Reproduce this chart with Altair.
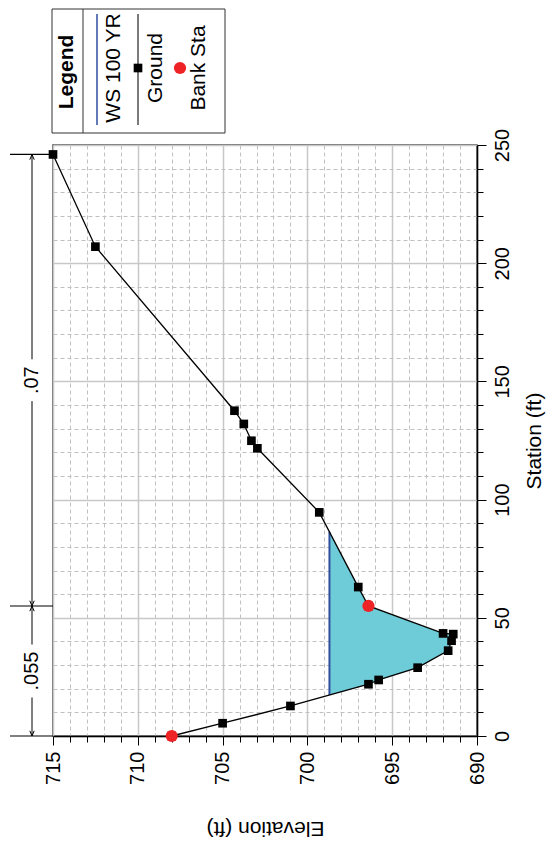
import altair as alt
import pandas as pd

FONT = "Liberation Sans"

# ---- data (HEC-RAS cross section, drawn rotated) ----
station = [0.0, 5.4, 12.7, 21.9, 23.7, 28.9, 36.1, 40.3, 43.1, 43.4, 55.0, 63.0,
           94.6, 121.7, 124.9, 132.0, 137.6, 207.0, 246.0]
elevation = [708.0, 705.0, 701.0, 696.4, 695.8, 693.5, 691.7, 691.5, 691.4, 692.0,
             696.4, 697.0, 699.3, 702.95, 703.3, 703.75, 704.3, 712.5, 715.0]
bank_sta = [0.0, 55.0]
bank_elev = [708.0, 696.4]
ws_elev = 698.7
n_labels = [".055", ".07"]
n_breaks = [0.0, 55.0, 246.0]
elev_ticks = list(range(690, 716))
sta_ticks = list(range(0, 251, 10))
legend_items = ["WS 100 YR", "Ground", "Bank Sta"]

W, H = 424, 591
PX_PER_STA = H / 250.0

xs = alt.Scale(domain=[690, 715], reverse=True, nice=False, zero=False)
ys = alt.Scale(domain=[0, 250], nice=False, zero=False)

ground = pd.DataFrame({"sta": station, "elev": elevation})
bank = pd.DataFrame({"sta": bank_sta, "elev": bank_elev})

# wetted region: ground below water surface, with crossings found on ground segments
pts = []
for i in range(len(station) - 1):
    s0, e0, s1, e1 = station[i], elevation[i], station[i + 1], elevation[i + 1]
    if e0 <= ws_elev:
        pts.append((s0, e0))
    if (e0 - ws_elev) * (e1 - ws_elev) < 0:
        t = (ws_elev - e0) / (e1 - e0)
        pts.append((s0 + t * (s1 - s0), ws_elev))
if elevation[-1] <= ws_elev:
    pts.append((station[-1], elevation[-1]))
wet = pd.DataFrame({"sta": [p[0] for p in pts], "elev": [p[1] for p in pts],
                    "ws": [ws_elev] * len(pts)})
ws_line = pd.DataFrame({"elev": [ws_elev], "sta": [wet["sta"].min()], "s2": [wet["sta"].max()]})

major5 = "datum.value % 5 == 0"
major50 = "datum.value % 50 == 0"

x_axis = alt.Axis(
    orient="bottom", values=elev_ticks, title="Elevation (ft)",
    labelExpr="datum.value % 5 == 0 ? datum.label : ''",
    labelAngle=270, labelAlign="right", labelBaseline="middle",
    labelFontSize=20, labelFont=FONT, labelColor="black", labelPadding=6,
    labelOverlap=False, labelFlush=False,
    tickSize={"condition": {"test": major5, "value": 9}, "value": 6},
    tickColor="black", tickWidth=1,
    grid=True,
    gridDash={"condition": {"test": major5, "value": []}, "value": [4, 3]},
    gridColor={"condition": {"test": major5, "value": "#c8c8c8"}, "value": "#c0c0c0"},
    gridWidth={"condition": {"test": major5, "value": 1.5}, "value": 1},
    domainColor="black", domainWidth=1.5,
    titleAngle=180, titleFontSize=21, titleFont=FONT, titleFontWeight="normal",
    titleColor="black", titleAlign="center", titleBaseline="middle", titleY=91,
)
y_axis = alt.Axis(
    orient="right", values=sta_ticks, title="Station (ft)",
    labelExpr="datum.value % 50 == 0 ? datum.label : ''",
    labelAngle=270, labelAlign="center", labelBaseline="top",
    labelFontSize=20, labelFont=FONT, labelColor="black", labelPadding=6,
    labelOverlap=False, labelFlush=False,
    tickSize={"condition": {"test": major50, "value": 9}, "value": 6},
    tickColor="black", tickWidth=1,
    grid=True,
    gridDash={"condition": {"test": major50, "value": []}, "value": [4, 3]},
    gridColor={"condition": {"test": major50, "value": "#c8c8c8"}, "value": "#c0c0c0"},
    gridWidth={"condition": {"test": major50, "value": 1.5}, "value": 1},
    domainColor="black", domainWidth=1.5,
    titleAngle=270, titleFontSize=21, titleFont=FONT, titleFontWeight="normal",
    titleColor="black", titleAlign="center", titleBaseline="middle",
    titleX=57, titleY=H / 2,
)

X = alt.X("elev:Q", scale=xs, axis=x_axis)
Y = alt.Y("sta:Q", scale=ys, axis=y_axis)

area = alt.Chart(wet).mark_area(orient="horizontal", color="#6ecbd8", opacity=1).encode(
    y=Y, x=X, x2="ws:Q",
)
wsl = alt.Chart(ws_line).mark_rule(color="#2e4f9e", strokeWidth=2).encode(
    x=X, y=Y, y2="s2:Q",
)
gline = alt.Chart(ground).mark_line(color="black", strokeWidth=1.3).encode(
    x=X, y=Y, order="sta:Q",
)
gpts = alt.Chart(ground).mark_square(color="black", size=75, opacity=1).encode(x=X, y=Y)
bpts = alt.Chart(bank).mark_circle(color="#ee2326", size=150, opacity=1).encode(x=X, y=Y)

# ---- Manning's n dimension lines on the left ----
DIM_X = -21
ticks_df = pd.DataFrame({"sta": n_breaks})
dim_ticks = alt.Chart(ticks_df).mark_rule(color="black", strokeWidth=1.2).encode(
    y=Y, x=alt.value(-43), x2=alt.value(0),
)
segs = []
lab_rows = []
for i, lab in enumerate(n_labels):
    a, b = n_breaks[i], n_breaks[i + 1]
    mid = (a + b) / 2
    text_px = 20 * (0.278 + 0.556 * (len(lab) - 1))
    half = (text_px / 2 + 7) / PX_PER_STA
    segs.append((a, mid - half))
    segs.append((mid + half, b))
    lab_rows.append((mid, lab))
seg_df = pd.DataFrame({"sta": [s[0] for s in segs], "s2": [s[1] for s in segs]})
dim_lines = alt.Chart(seg_df).mark_rule(color="black", strokeWidth=1).encode(
    y=Y, y2="s2:Q", x=alt.value(DIM_X),
)
lab_df = pd.DataFrame({"sta": [r[0] for r in lab_rows], "lab": [r[1] for r in lab_rows]})
dim_text = alt.Chart(lab_df).mark_text(
    angle=270, font=FONT, fontSize=20, color="black", align="center", baseline="middle"
).encode(y=Y, x=alt.value(DIM_X), text="lab:N")

up_path = "M-0.8,1.9L0,0L0.8,1.9"
down_path = "M-0.8,-1.9L0,0L0.8,-1.9"
up_df = pd.DataFrame({"sta": [n_breaks[1], n_breaks[2]]})
down_df = pd.DataFrame({"sta": [n_breaks[0], n_breaks[1]]})
arr_up = alt.Chart(up_df).mark_point(shape=up_path, filled=False, color="black",
                                     size=30, strokeWidth=1, opacity=1).encode(
    y=Y, x=alt.value(DIM_X))
arr_down = alt.Chart(down_df).mark_point(shape=down_path, filled=False, color="black",
                                         size=30, strokeWidth=1, opacity=1).encode(
    y=Y, x=alt.value(DIM_X))

# ---- manual legend (rotated, top left) ----
one = pd.DataFrame({"a": [0]})
LT, LB = -136, -12
leg_box = alt.Chart(one).mark_rect(fill="white", stroke="#333333", strokeWidth=1).encode(
    x=alt.value(-1), x2=alt.value(172), y=alt.value(LT), y2=alt.value(LB))
leg_div = alt.Chart(one).mark_rule(color="#333333", strokeWidth=1).encode(
    x=alt.value(30), y=alt.value(LT), y2=alt.value(LB))
leg_title = alt.Chart(one).mark_text(
    text="Legend", angle=270, font=FONT, fontSize=21, fontWeight="bold",
    align="center", baseline="middle", color="black"
).encode(x=alt.value(14), y=alt.value(-73))
leg_ws = alt.Chart(one).mark_rule(color="#2e4f9e", strokeWidth=1.5).encode(
    x=alt.value(44), y=alt.value(-131), y2=alt.value(-20))
leg_gr = alt.Chart(one).mark_rule(color="#333333", strokeWidth=1.3).encode(
    x=alt.value(85), y=alt.value(-131), y2=alt.value(-20))
leg_sq = alt.Chart(one).mark_square(color="black", size=75, opacity=1).encode(
    x=alt.value(85), y=alt.value(-77))
leg_dot = alt.Chart(one).mark_circle(color="#ee2326", size=150, opacity=1).encode(
    x=alt.value(127), y=alt.value(-77))
leg_texts = []
for txt, xp in zip(legend_items, [61, 103, 146]):
    leg_texts.append(alt.Chart(one).mark_text(
        text=txt, angle=270, font=FONT, fontSize=21, align="center",
        baseline="middle", color="black"
    ).encode(x=alt.value(xp), y=alt.value(-77)))

chart = alt.layer(
    area, wsl, gline, gpts, bpts,
    dim_ticks, dim_lines, dim_text, arr_up, arr_down,
    leg_box, leg_div, leg_title, leg_ws, leg_gr, leg_sq, leg_dot, *leg_texts,
).properties(
    width=W, height=H,
    autosize=alt.AutoSizeParams(type="none"),
    padding={"left": 45, "top": 137, "right": 70, "bottom": 107},
    background="white",
).configure_view(
    stroke="#444444", strokeWidth=1.5
).configure_axis(
    labelFont=FONT, titleFont=FONT
)

chart.save("out.html", embed_options={"renderer": "svg", "actions": False})
